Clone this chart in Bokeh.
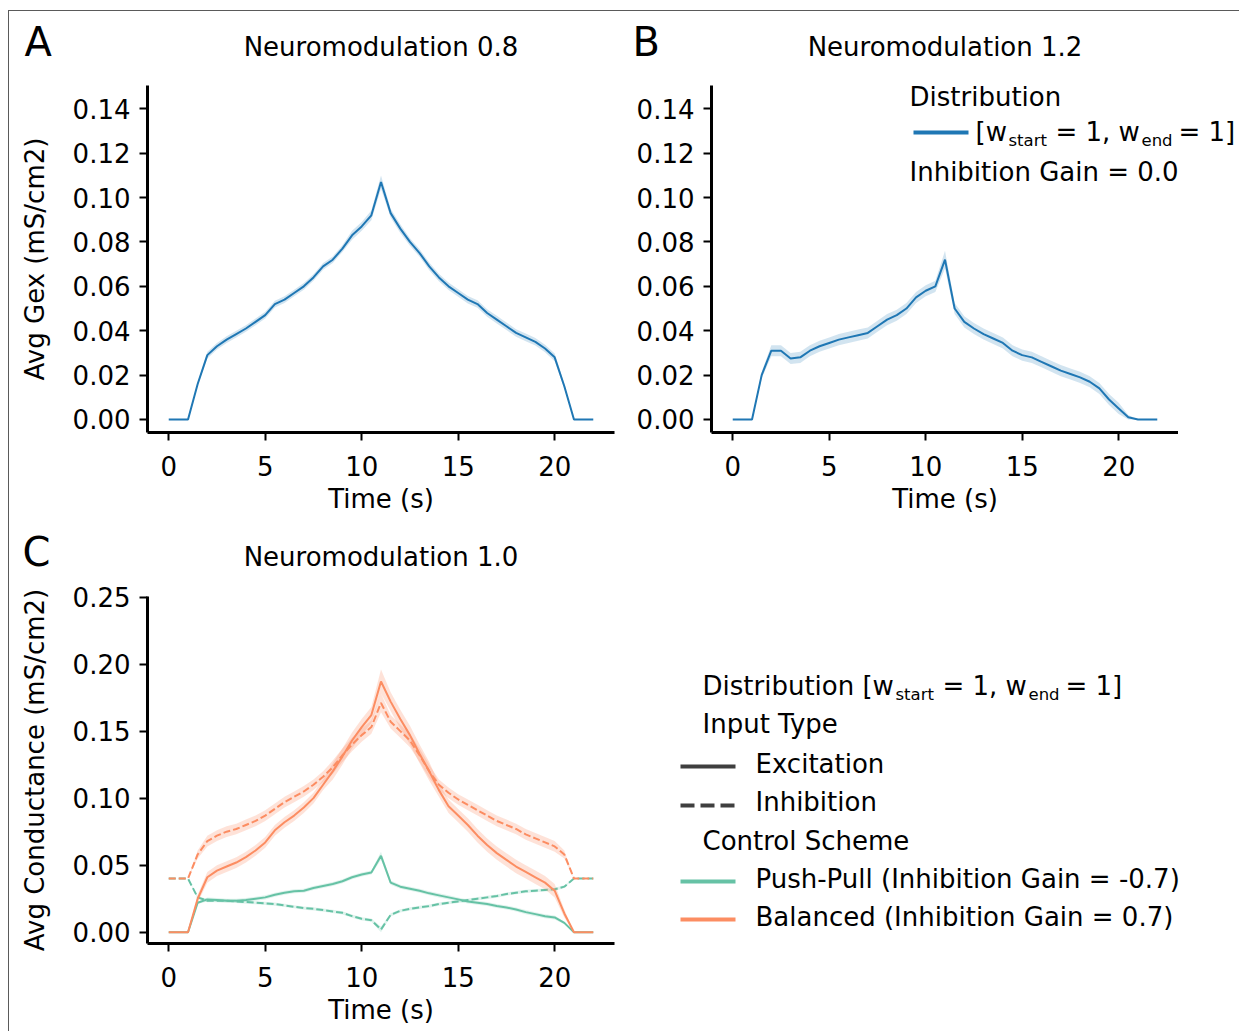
from bokeh.plotting import figure
from bokeh.layouts import row, column
from bokeh.models import Range1d, FixedTicker
from bokeh.core.properties import value
from bokeh.embed import file_html
from bokeh.resources import INLINE

# ---------------- data ----------------
time_s = [0.0, 0.5, 1.0, 1.5, 2.0, 2.5, 3.0, 3.5, 4.0, 4.5, 5.0, 5.5, 6.0, 6.5, 7.0,
          7.5, 8.0, 8.5, 9.0, 9.5, 10.0, 10.5, 11.0, 11.5, 12.0, 12.5, 13.0, 13.5,
          14.0, 14.5, 15.0, 15.5, 16.0, 16.5, 17.0, 17.5, 18.0, 18.5, 19.0, 19.5,
          20.0, 20.5, 21.0, 21.5, 22.0]

# Panel A: Neuromodulation 0.8, Avg Gex
gex_08 = [0, 0, 0, 0.016, 0.029, 0.033, 0.036, 0.0385, 0.041, 0.044, 0.047, 0.052, 0.054,
          0.057, 0.060, 0.064, 0.069, 0.072, 0.077, 0.083, 0.087, 0.092, 0.107, 0.093,
          0.086, 0.080, 0.075, 0.069, 0.064, 0.060, 0.057, 0.054, 0.052, 0.048, 0.045,
          0.042, 0.039, 0.037, 0.035, 0.032, 0.028, 0.015, 0, 0, 0]
gex_08_err = [0, 0, 0, 0.0008, 0.0015, 0.0015, 0.0015, 0.0015, 0.0015, 0.0015, 0.0015,
              0.0015, 0.0015, 0.0015, 0.0015, 0.0015, 0.0015, 0.0015, 0.0015, 0.002, 0.002,
              0.0022, 0.003, 0.002, 0.002, 0.0017, 0.0017, 0.0017, 0.0017, 0.0017, 0.0017,
              0.0017, 0.0017, 0.0017, 0.0017, 0.0017, 0.0017, 0.0017, 0.0017, 0.0017,
              0.0017, 0.001, 0, 0, 0]

# Panel B: Neuromodulation 1.2, Avg Gex
gex_12 = [0, 0, 0, 0.020, 0.031, 0.031, 0.0275, 0.028, 0.031, 0.033, 0.0345, 0.036, 0.037,
          0.038, 0.039, 0.042, 0.045, 0.047, 0.050, 0.055, 0.058, 0.060, 0.072, 0.050,
          0.044, 0.041, 0.0385, 0.0365, 0.0345, 0.031, 0.029, 0.028, 0.026, 0.024, 0.022,
          0.0205, 0.019, 0.017, 0.014, 0.009, 0.005, 0.001, 0, 0, 0]
gex_12_err = [0, 0, 0, 0.0015, 0.0025, 0.0025, 0.0025, 0.0025, 0.0025, 0.0025, 0.0025,
              0.0025, 0.0025, 0.0025, 0.0025, 0.0025, 0.0025, 0.0025, 0.0025, 0.0025,
              0.0025, 0.0025, 0.004, 0.0025, 0.0025, 0.0025, 0.0025, 0.0025, 0.0025,
              0.0025, 0.0025, 0.0025, 0.0025, 0.0025, 0.0025, 0.0025, 0.0025, 0.0025,
              0.0025, 0.0025, 0.0025, 0.001, 0, 0, 0]

# Panel C: Neuromodulation 1.0, Avg Conductance
bal_exc = [0, 0, 0, 0.025, 0.041, 0.046, 0.049, 0.052, 0.056, 0.061, 0.067, 0.076, 0.082,
           0.087, 0.093, 0.100, 0.110, 0.120, 0.131, 0.143, 0.153, 0.162, 0.187, 0.172,
           0.159, 0.147, 0.133, 0.120, 0.106, 0.094, 0.087, 0.080, 0.072, 0.065, 0.059,
           0.054, 0.049, 0.045, 0.041, 0.037, 0.031, 0.014, 0, 0, 0]
bal_exc_err = [0, 0, 0, 0.003, 0.004, 0.004, 0.004, 0.004, 0.004, 0.004, 0.004, 0.004,
               0.004, 0.004, 0.004, 0.004, 0.004, 0.006, 0.006, 0.006, 0.006, 0.006, 0.009,
               0.007, 0.007, 0.007, 0.007, 0.007, 0.005, 0.005, 0.005, 0.005, 0.005, 0.005,
               0.005, 0.005, 0.005, 0.005, 0.005, 0.005, 0.005, 0.003, 0, 0, 0]
bal_inh = [0.04, 0.04, 0.04, 0.058, 0.068, 0.072, 0.075, 0.077, 0.080, 0.083, 0.087, 0.092,
           0.097, 0.101, 0.105, 0.110, 0.116, 0.123, 0.132, 0.140, 0.147, 0.153, 0.171,
           0.157, 0.150, 0.143, 0.132, 0.120, 0.110, 0.104, 0.099, 0.095, 0.091, 0.087,
           0.083, 0.080, 0.077, 0.073, 0.070, 0.067, 0.064, 0.058, 0.04, 0.04, 0.04]
bal_inh_err = [0, 0, 0, 0.003, 0.004, 0.004, 0.004, 0.004, 0.004, 0.004, 0.004, 0.004,
               0.004, 0.004, 0.004, 0.004, 0.004, 0.005, 0.005, 0.005, 0.005, 0.005, 0.007,
               0.005, 0.005, 0.005, 0.005, 0.005, 0.004, 0.004, 0.004, 0.004, 0.004, 0.004,
               0.004, 0.004, 0.004, 0.004, 0.004, 0.004, 0.004, 0.003, 0, 0, 0]
pp_exc = [0, 0, 0, 0.022, 0.0245, 0.024, 0.0235, 0.0235, 0.024, 0.025, 0.026, 0.028, 0.0295,
          0.0305, 0.031, 0.033, 0.0345, 0.036, 0.038, 0.041, 0.043, 0.0445, 0.057, 0.037,
          0.034, 0.0325, 0.031, 0.029, 0.0275, 0.026, 0.0245, 0.023, 0.022, 0.021, 0.0195,
          0.0185, 0.017, 0.015, 0.0135, 0.012, 0.011, 0.007, 0, 0, 0]
pp_exc_err = [0, 0, 0, 0.001, 0.0015, 0.0015, 0.0015, 0.0015, 0.0015, 0.0015, 0.0015,
              0.0015, 0.0015, 0.0015, 0.0015, 0.0015, 0.0015, 0.0015, 0.0015, 0.0015,
              0.0015, 0.0015, 0.003, 0.0015, 0.0015, 0.0015, 0.0015, 0.0015, 0.0015,
              0.0015, 0.0015, 0.0015, 0.0015, 0.0015, 0.0015, 0.0015, 0.0015, 0.0015,
              0.0015, 0.0015, 0.0015, 0.001, 0, 0, 0]
pp_inh = [0.04, 0.04, 0.04, 0.026, 0.0235, 0.0235, 0.0235, 0.023, 0.0225, 0.022, 0.0215,
          0.021, 0.020, 0.019, 0.018, 0.0175, 0.0165, 0.0155, 0.0145, 0.012, 0.010, 0.009,
          0.002, 0.013, 0.016, 0.0175, 0.0185, 0.0195, 0.021, 0.022, 0.023, 0.024, 0.025,
          0.026, 0.027, 0.0285, 0.0295, 0.0305, 0.031, 0.0315, 0.032, 0.034, 0.04, 0.04, 0.04]
pp_inh_err = [0, 0, 0, 0.001, 0.0012, 0.0012, 0.0012, 0.0012, 0.0012, 0.0012, 0.0012,
              0.0012, 0.0012, 0.0012, 0.0012, 0.0012, 0.0012, 0.0012, 0.0012, 0.0012,
              0.0012, 0.0012, 0.002, 0.0012, 0.0012, 0.0012, 0.0012, 0.0012, 0.0012,
              0.0012, 0.0012, 0.0012, 0.0012, 0.0012, 0.0012, 0.0012, 0.0012, 0.0012,
              0.0012, 0.0012, 0.0012, 0.001, 0, 0, 0]

x_ticks = [0, 5, 10, 15, 20]
gex_ticks = [0.0, 0.02, 0.04, 0.06, 0.08, 0.10, 0.12, 0.14]
gex_tick_labels = ["0.00", "0.02", "0.04", "0.06", "0.08", "0.10", "0.12", "0.14"]
cond_ticks = [0.0, 0.05, 0.10, 0.15, 0.20, 0.25]
cond_tick_labels = ["0.00", "0.05", "0.10", "0.15", "0.20", "0.25"]

titles = ["Neuromodulation 0.8", "Neuromodulation 1.2", "Neuromodulation 1.0"]
panel_letters = ["A", "B", "C"]

# ---------------- style ----------------
FONT = "DejaVu Sans"
FSN = 26.0          # main text size (px)
SUBN = 16.5         # subscript size (px)
LETN = 40.0         # panel letter size (px)
FS = "%gpx" % FSN
BLUE = "#1f77b4"
GREEN = "#66c2a5"
ORANGE = "#fc8d62"
DARK = "#3f3f3f"

FW, FH = 467, 347
XR = (-1.1, 23.1)
YR_GEX = (-0.00586, 0.1505)
YR_COND = (-0.0084, 0.2504)

HEAD_H = 58
TOP_B = 16


def make_fig(left, right, bottom, yr, ticks, tick_labels, ylabel):
    p = figure(frame_width=FW, frame_height=FH,
               min_border_left=left, min_border_right=right,
               min_border_top=TOP_B, min_border_bottom=bottom,
               x_range=Range1d(*XR), y_range=Range1d(*yr),
               output_backend="svg", toolbar_location=None,
               background_fill_color="white", border_fill_color="white",
               outline_line_color=None)
    p.grid.visible = False
    for ax in (p.xaxis[0], p.yaxis[0]):
        ax.axis_line_width = 3
        ax.axis_line_color = "black"
        ax.major_tick_line_width = 2
        ax.major_tick_line_color = "black"
        ax.major_tick_out = 8
        ax.major_tick_in = 0
        ax.minor_tick_out = 0
        ax.minor_tick_in = 0
        ax.major_label_text_font = FONT
        ax.major_label_text_font_size = FS
        ax.major_label_text_color = "black"
        ax.axis_label_text_font = FONT
        ax.axis_label_text_font_size = FS
        ax.axis_label_text_font_style = "normal"
        ax.axis_label_text_color = "black"
    p.xaxis.ticker = FixedTicker(ticks=x_ticks)
    p.xaxis.major_label_standoff = 15
    p.xaxis.axis_label = "Time (s)"
    p.xaxis.axis_label_standoff = 5
    p.yaxis.ticker = FixedTicker(ticks=ticks)
    p.yaxis.major_label_overrides = {t: l for t, l in zip(ticks, tick_labels)}
    p.yaxis.major_label_standoff = 9
    if ylabel:
        p.yaxis.axis_label = ylabel
        p.yaxis.axis_label_standoff = 20
    return p


def band_line(p, t, m, e, color, dash="solid", alpha=0.2):
    lo = [a - b for a, b in zip(m, e)]
    hi = [a + b for a, b in zip(m, e)]
    p.varea(x=t, y1=lo, y2=hi, fill_color=color, fill_alpha=alpha)
    p.line(t, m, line_color=color, line_width=2, line_dash=dash)


def pixel_fig(x0, x1, y0, y1, **kw):
    """Figure whose data coordinates equal page pixels (y downward)."""
    p = figure(frame_width=x1 - x0, frame_height=y1 - y0,
               x_range=Range1d(x0, x1), y_range=Range1d(y1, y0),
               x_axis_type=None, y_axis_type=None,
               output_backend="svg", toolbar_location=None, outline_line_color=None,
               background_fill_color="white", border_fill_color="white", **kw)
    p.grid.visible = False
    return p


def ptext(p, x, y, text, size=FSN, align="left", xf=None, yf=None):
    # y is the wanted baseline (page px); the renderer puts the text ~0.385em lower
    y = y - 0.385 * size
    if xf is not None:
        x, y = xf(x), yf(y)
    p.text(x=[x], y=[y], text=[text], text_font=value(FONT),
           text_font_size=value("%gpx" % size),
           text_baseline="alphabetic", text_align=align, text_color="black")


# Page geometry
TOP1 = 11 + HEAD_H            # row 1 canvas top (69)
TOP2 = TOP1 + 453 + HEAD_H    # row 2 canvas top (580)
A_LEFT, B_LEFT = 147, 711
FT1 = TOP1 + TOP_B            # frame top row 1 (85)
FT2 = TOP2 + TOP_B            # frame top row 2 (596)

# ---- header rows (panel letters + titles) ----
h1 = pixel_fig(9, 1239, 11, TOP1, min_border=0)
ptext(h1, 24, 57, panel_letters[0], LETN)
ptext(h1, A_LEFT + FW / 2, 57, titles[0], FSN, "center")
ptext(h1, 632, 57, panel_letters[1], LETN)
ptext(h1, B_LEFT + FW / 2, 57, titles[1], FSN, "center")

h2 = pixel_fig(9, 1239, TOP1 + 453, TOP2, min_border=0)
ptext(h2, 22, FT2 - 29, panel_letters[2], LETN)
ptext(h2, A_LEFT + FW / 2, FT2 - 29, titles[2], FSN, "center")

# ---- Panel A ----
pA = make_fig(138, 6, 90, YR_GEX, gex_ticks, gex_tick_labels, "Avg Gex (mS/cm2)")
band_line(pA, time_s, gex_08, gex_08_err, BLUE)

# ---- Panel B ----
pB = make_fig(91, 0, 90, YR_GEX, gex_ticks, gex_tick_labels, None)
band_line(pB, time_s, gex_12, gex_12_err, BLUE)


def bx(px):
    return XR[0] + (px - B_LEFT) / FW * (XR[1] - XR[0])


def by(py):
    return YR_GEX[1] - (py - FT1) / FH * (YR_GEX[1] - YR_GEX[0])


# legend of panel B (the part right of the axes lives in pBx)
pBx = pixel_fig(B_LEFT + FW, 1239, FT1, FT1 + FH, min_border_left=0, min_border_right=0,
                min_border_top=TOP_B, min_border_bottom=90)
ptext(pB, 909, 106.5, "Distribution", xf=bx, yf=by)
pB.line([bx(913), bx(968)], [by(132), by(132)], line_color=BLUE, line_width=4)
O = 975
ptext(pB, O, 142, "[w", xf=bx, yf=by)
ptext(pB, O + 33, 146, "start", SUBN, xf=bx, yf=by)
ptext(pB, O + 80, 142, "= 1, w", xf=bx, yf=by)
ptext(pB, O + 166, 146, "end", SUBN, xf=bx, yf=by)
ptext(pBx, O + 203, 142, "= 1]")
ptext(pB, 909, 182, "Inhibition Gain = 0.0", xf=bx, yf=by)

# ---- Panel C ----
pC = make_fig(138, 6, 88, YR_COND, cond_ticks, cond_tick_labels, "Avg Conductance (mS/cm2)")
band_line(pC, time_s, pp_exc, pp_exc_err, GREEN, "solid", 0.2)
band_line(pC, time_s, pp_inh, pp_inh_err, GREEN, "7 3", 0.2)
band_line(pC, time_s, bal_exc, bal_exc_err, ORANGE, "solid", 0.25)
band_line(pC, time_s, bal_inh, bal_inh_err, ORANGE, "7 3", 0.25)

# ---- Legend for panel C (page pixel coordinates) ----
pL = pixel_fig(620, 1239, FT2, FT2 + FH, min_border_left=0, min_border_right=0,
               min_border_top=TOP_B, min_border_bottom=88)
OC = 702 + 160
ptext(pL, 702, 696, "Distribution [w")
ptext(pL, OC + 33, 700, "start", SUBN)
ptext(pL, OC + 80, 696, "= 1, w")
ptext(pL, OC + 166, 700, "end", SUBN)
ptext(pL, OC + 203, 696, "= 1]")
ptext(pL, 702, 734, "Input Type")
pL.line([680, 735], [766, 766], line_color=DARK, line_width=4)
ptext(pL, 755, 774, "Excitation")
pL.line([680, 735], [805, 805], line_color=DARK, line_width=4, line_dash="14 6")
ptext(pL, 755, 812, "Inhibition")
ptext(pL, 702, 851, "Control Scheme")
pL.line([680, 735], [881, 881], line_color=GREEN, line_width=4)
ptext(pL, 755, 889, "Push-Pull (Inhibition Gain = -0.7)")
pL.line([680, 735], [919, 919], line_color=ORANGE, line_width=4)
ptext(pL, 755, 927, "Balanced (Inhibition Gain = 0.7)")

layout = column(h1, row(pA, pB, pBx), h2, row(pC, pL), margin=(10, 0, 0, 8),
                styles={"border-top": "1px solid #5a5a5a", "border-left": "1px solid #5a5a5a"})

open("out.html", "w").write(file_html(layout, INLINE))
